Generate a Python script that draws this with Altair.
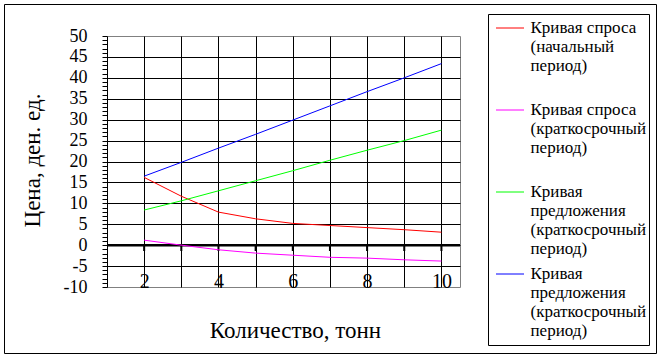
import altair as alt
import pandas as pd

# ---- data ----
quantity = [2, 3, 4, 5, 6, 7, 8, 9, 10]
demand_initial = [16.2, 11.7, 7.9, 6.3, 5.2, 4.7, 4.2, 3.7, 3.1]
demand_short = [1.2, 0.0, -1.1, -1.9, -2.4, -2.9, -3.1, -3.5, -3.8]
supply_short_a = [8.4, 10.6, 13.0, 15.4, 17.8, 20.3, 22.7, 25.0, 27.5]
supply_short_b = [16.5, 19.8, 23.2, 26.5, 29.9, 33.3, 36.7, 40.0, 43.4]

series_keys = ["d0", "d1", "s1", "s2"]
series_labels = [
    ["Кривая спроса", "(начальный", "период)"],
    ["Кривая спроса", "(краткосрочный", "период)"],
    ["Кривая", "предложения", "(краткосрочный", "период)"],
    ["Кривая", "предложения", "(краткосрочный", "период)"],
]
series_colors = ["#FF0000", "#FF00FF", "#00FF00", "#0000FF"]

x_ticks = list(range(1, 11))
y_ticks = list(range(-10, 51))
x_title = "Количество, тонн"
y_title = "Цена, ден. ед."

FONT = "Liberation Serif"
ENTRY_PX = 82.0   # spacing of legend entries
LINE_PX = 19.3    # spacing of text lines inside an entry

rows = []
for key, vals in zip(series_keys, [demand_initial, demand_short, supply_short_a, supply_short_b]):
    for q, v in zip(quantity, vals):
        rows.append({"key": key, "q": q, "p": v})
df = pd.DataFrame(rows)

legend_df = pd.DataFrame({"idx": list(range(len(series_keys))), "key": series_keys})

# legend text lines, positioned in "entry" units of the legend scale
line_pos, line_txt = [], []
for i, parts in enumerate(series_labels):
    for j, t in enumerate(parts):
        line_pos.append(round(i + j * LINE_PX / ENTRY_PX, 6))
        line_txt.append(t)
label_expr = ("[" + ",".join("'" + t + "'" for t in line_txt) + "][indexof(["
              + ",".join(repr(v) for v in line_pos) + "], datum.value)]")

ticks_df = pd.DataFrame({"q": quantity})
one = pd.DataFrame({"a": [0]})

color_scale = alt.Scale(domain=series_keys, range=series_colors)
x_scale = alt.Scale(domain=[1, 10.5], nice=False, zero=False)
y_scale = alt.Scale(domain=[-10, 50], nice=False, zero=False)

x_axis = alt.Axis(
    values=x_ticks, tickCount=100,
    labelExpr="datum.value % 2 == 0 ? '' + datum.value : ''",
    grid=True, gridColor="black", gridWidth=1,
    gridOpacity={"condition": {"test": "datum.value > 1", "value": 1}, "value": 0},
    domain=False, ticks=False, tickSize=0,
    labelPadding=0, labelBaseline="alphabetic", labelFontSize=20,
    labelFlush=False, labelOverlap=False, labelColor="black", labelFont=FONT,
    title=x_title, titleFontSize=23, titleFont=FONT, titleFontWeight="normal",
    titleX=188, titleY=50, titleBaseline="alphabetic", titleAlign="center", titleColor="black",
)
y_axis = alt.Axis(
    values=y_ticks, tickCount=200,
    labelExpr="datum.value % 5 == 0 ? '' + datum.value : ''",
    grid=True, gridColor="black", gridWidth=1,
    gridOpacity={"condition": {"test": "datum.value % 5 == 0 && datum.value < 50 && datum.value > -10", "value": 1}, "value": 0},
    domain=True, domainColor="black", domainWidth=1,
    ticks=True, tickColor="black", tickSize=5, tickWidth=1,
    labelPadding=15, labelFontSize=18, labelFont=FONT, labelColor="black",
    labelFlush=False, labelOverlap=False,
    title=y_title, titleFontSize=23, titleFont=FONT, titleFontWeight="normal",
    titleX=-68, titleY=124, titleAngle=270, titleBaseline="alphabetic", titleAlign="center", titleColor="black",
)

lines = alt.Chart(df).mark_line(strokeWidth=1).encode(
    x=alt.X("q:Q", scale=x_scale, axis=x_axis),
    y=alt.Y("p:Q", scale=y_scale, axis=y_axis),
    color=alt.Color("key:N", scale=color_scale, legend=None),
    detail="key:N",
)

zero_rule = alt.Chart(one).mark_rule(color="black", strokeWidth=2.5).encode(
    y=alt.YDatum(0),
)

tick_rules = alt.Chart(ticks_df).mark_rule(color="black", strokeWidth=2).encode(
    x=alt.X("q:Q", scale=x_scale),
    y=alt.YDatum(0),
    y2=alt.Y2Datum(-1.4),
)

main = alt.layer(zero_rule, tick_rules, lines)

# legend: entry scale (entry index -> pixel row), text drawn as axis labels of that scale
leg_max = 3.75
leg_scale = alt.Scale(domain=[0, leg_max], range=[-8, -8 + ENTRY_PX * leg_max], nice=False, zero=False)
leg_axis = alt.Axis(
    orient="right", offset=70, values=line_pos, tickCount=200,
    labelExpr=label_expr, labelFont=FONT, labelFontSize=17, labelColor="black",
    labelAlign="left", labelBaseline="alphabetic", labelOffset=4, labelPadding=0,
    labelFlush=False, labelOverlap=False, labelBound=False, labelLimit=0,
    domain=False, ticks=False, tickSize=0, grid=False, title=None,
)
leg_rules = alt.Chart(legend_df).mark_rule(strokeWidth=1).encode(
    x=alt.value(389), x2=alt.value(417),
    y=alt.Y("idx:Q", scale=leg_scale, axis=leg_axis),
    color=alt.Color("key:N", scale=color_scale, legend=None),
)

outer_frame = alt.Chart(one).mark_rect(fillOpacity=0, stroke="black", strokeWidth=1).encode(
    x=alt.value(-102.5), x2=alt.value(549.5), y=alt.value(-31.5), y2=alt.value(317.5),
)
legend_box = alt.Chart(one).mark_rect(fillOpacity=0, stroke="black", strokeWidth=1).encode(
    x=alt.value(381.5), x2=alt.value(542.5), y=alt.value(-21.5), y2=alt.value(309.5),
)
frames = alt.layer(outer_frame, legend_box)

chart = alt.layer(main, leg_rules, frames).resolve_scale(y="independent").properties(
    width=353, height=251,
    autosize=alt.AutoSizeParams(type="none"),
    padding={"left": 107, "top": 36, "right": 203, "bottom": 72},
    background="white",
).configure_view(stroke="#808080", strokeWidth=1)

chart.save("out.html", embed_options={"renderer": "svg", "actions": False})
